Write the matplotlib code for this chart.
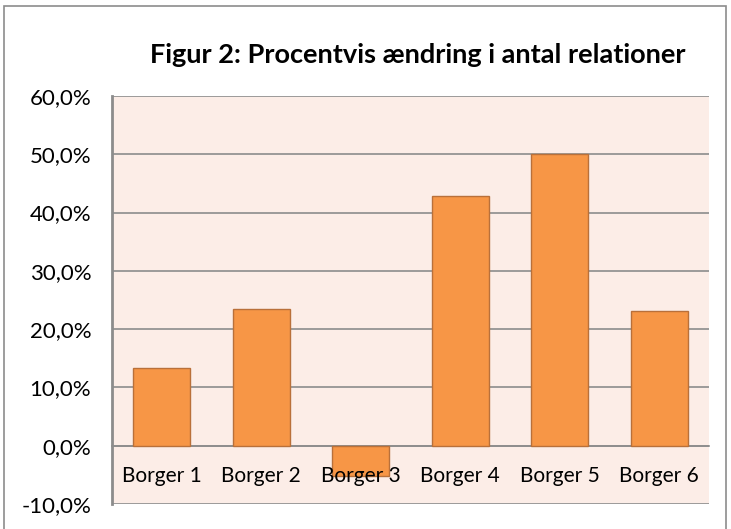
import numpy as np
import matplotlib.pyplot as plt
from matplotlib.patches import Rectangle

# data to plot
categories = ['Borger 1', 'Borger 2', 'Borger 3', 'Borger 4', 'Borger 5', 'Borger 6']
change_pct = [13.3, 23.5, -5.2, 42.9, 50.0, 23.1]
y_ticks = [-10, 0, 10, 20, 30, 40, 50, 60]

plt.rcParams['font.family'] = ['Lato', 'DejaVu Sans']

fig = plt.figure(figsize=(7.31, 5.29), dpi=100)
ax = fig.add_axes([112 / 731, 25 / 529, 597 / 731, 408 / 529])

# grey frame round the whole chart
fig.patches.append(Rectangle((4 / 731, -0.05), 722 / 731, 1.05 - 6 / 529,
                             transform=fig.transFigure, fill=False,
                             edgecolor='#8c8c8c', linewidth=1.2))

ax.set_facecolor('#fcede7')
index = np.arange(len(categories))
ax.bar(index, change_pct, 0.57, color='#f79646', edgecolor='#b9703a',
       linewidth=1.0, zorder=3)

ax.set_xlim(-0.5, len(categories) - 0.5)
ax.set_ylim(-10, 60)
ax.set_yticks(y_ticks)
ax.set_yticklabels([f'{v:.1f}%'.replace('.', ',') for v in y_ticks])
ax.yaxis.grid(True, color='#8c8c8c', linewidth=1.2, zorder=1)
ax.tick_params(axis='y', length=0, pad=15, labelsize=16)

# category labels sit below the zero line, on top of the bars
ax.set_xticks([])
for i, name in enumerate(categories):
    ax.text(i, -5.2, name, ha='center', va='center', fontsize=15, zorder=5)

ax.spines['bottom'].set_position(('data', 0))
ax.spines['bottom'].set_color('#8c8c8c')
ax.spines['bottom'].set_linewidth(1.2)
ax.spines['left'].set_color('#8c8c8c')
ax.spines['left'].set_linewidth(2)
ax.spines['top'].set_visible(False)
ax.spines['right'].set_visible(False)
ax.set_axisbelow(True)

fig.text(418 / 731, 1 - 55 / 529, 'Figur 2: Procentvis ændring i antal relationer',
         ha='center', va='center', fontsize=19.5, fontweight='bold')

plt.savefig('out.png', dpi=100)
